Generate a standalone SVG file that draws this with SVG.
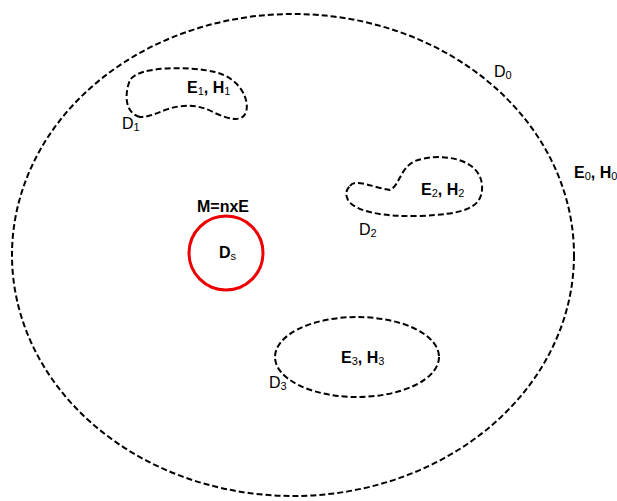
<svg xmlns="http://www.w3.org/2000/svg" width="617" height="501" viewBox="0 0 617 501">
<style>
.d{fill:none;stroke:#000;stroke-width:2;stroke-dasharray:6 3}
.b{font-family:"Liberation Sans",Arial,sans-serif;font-weight:bold;font-size:16px;fill:#000}
.r{font-family:"Liberation Sans",Arial,sans-serif;font-size:16px;fill:#000}
.s{font-size:11px;font-weight:normal}
</style>
<rect width="617" height="501" fill="#fff"/>
<g id="D0">
<ellipse class="d" cx="293" cy="255" rx="281" ry="241"/>
<text class="r" x="494" y="77">D<tspan class="s" dy="2">0</tspan></text>
<text class="b" x="574" y="178">E<tspan class="s" dy="2">0</tspan><tspan dy="-2">, H</tspan><tspan class="s" dy="2">0</tspan></text>
</g>
<g id="D1">
<path class="d" d="M140 117 C125 113,124 95,130 80 C138 66,190 66,215 72 C240 78,250 100,246 112 C243 122,230 120,215 113 C200 105,185 103,165 110 C155 114,148 117,140 117 Z"/>
<text class="b" x="187" y="93">E<tspan class="s" dy="2">1</tspan><tspan dy="-2">, H</tspan><tspan class="s" dy="2">1</tspan></text>
<text class="r" x="122" y="129">D<tspan class="s" dy="2">1</tspan></text>
</g>
<g id="D2">
<path class="d" d="M350 186 C355 178,375 188,390 190 C400 185,400 168,415 161 C440 152,480 158,482 185 C484 210,460 214,420 216 C385 217,355 212,348 200 C345 194,346 190,350 186 Z"/>
<text class="b" x="421" y="195">E<tspan class="s" dy="2">2</tspan><tspan dy="-2">, H</tspan><tspan class="s" dy="2">2</tspan></text>
<text class="r" x="359" y="235">D<tspan class="s" dy="2">2</tspan></text>
</g>
<g id="D3">
<ellipse class="d" cx="357" cy="357" rx="82" ry="40"/>
<text class="b" x="341" y="363">E<tspan class="s" dy="2">3</tspan><tspan dy="-2">, H</tspan><tspan class="s" dy="2">3</tspan></text>
<text class="r" x="269" y="388">D<tspan class="s" dy="2">3</tspan></text>
</g>
<g id="Ds">
<circle cx="226" cy="253" r="37" fill="none" stroke="#e00" stroke-width="3"/>
<text class="b" x="219" y="258">D<tspan class="s" dy="2">s</tspan></text>
<text class="b" x="197" y="212">M=nxE</text>
</g>
</svg>
